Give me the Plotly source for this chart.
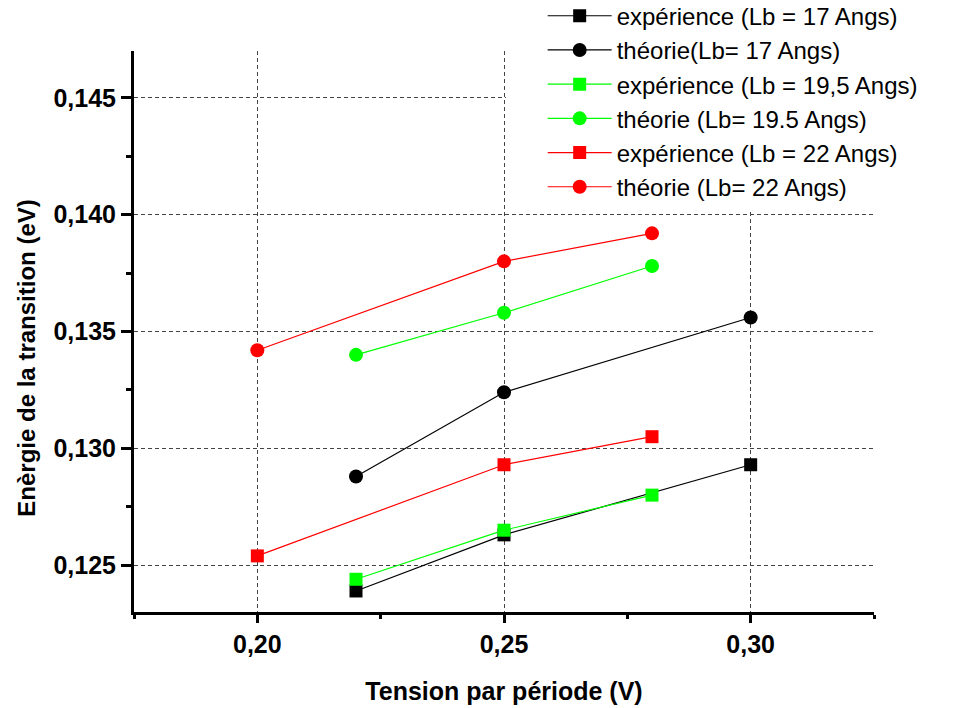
import plotly.graph_objects as go

# ---- data ----
x_exp17 = [0.22, 0.25, 0.30]
y_exp17 = [0.1239, 0.1263, 0.1293]
x_th17 = [0.22, 0.25, 0.30]
y_th17 = [0.1288, 0.1324, 0.1356]
x_exp195 = [0.22, 0.25, 0.28]
y_exp195 = [0.1244, 0.1265, 0.1280]
x_th195 = [0.22, 0.25, 0.28]
y_th195 = [0.1340, 0.1358, 0.1378]
x_exp22 = [0.20, 0.25, 0.28]
y_exp22 = [0.1254, 0.1293, 0.1305]
x_th22 = [0.20, 0.25, 0.28]
y_th22 = [0.1342, 0.1380, 0.1392]

names = [
    "expérience (Lb = 17 Angs)",
    "théorie(Lb= 17 Angs)",
    "expérience (Lb = 19,5 Angs)",
    "théorie (Lb= 19.5 Angs)",
    "expérience (Lb = 22 Angs)",
    "théorie (Lb= 22 Angs)",
]
x_title = "Tension par période (V)"
y_title = "Enèrgie de la transition (eV)"

series = [
    (x_exp17, y_exp17, "#000000", "square"),
    (x_th17, y_th17, "#000000", "circle"),
    (x_exp195, y_exp195, "#00ff00", "square"),
    (x_th195, y_th195, "#00ff00", "circle"),
    (x_exp22, y_exp22, "#ff0000", "square"),
    (x_th22, y_th22, "#ff0000", "circle"),
]

FONT = "Liberation Sans, Arial, sans-serif"

# figure is drawn inside the page's 8px body margin
W, H = 958, 700
L, R, T, B = 125.5, 91.5, 43.3, 96.3
PW, PH = W - L - R, H - T - B

fig = go.Figure()
for (xs, ys, col, sym), nm in zip(series, names):
    fig.add_trace(go.Scatter(
        x=xs, y=ys, name=nm, mode="lines+markers",
        line=dict(color=col, width=1.2),
        marker=dict(symbol=sym, size=13 if sym == "square" else 14, color=col,
                    line=dict(width=0)),
    ))

# y-axis title as annotation (centred a bit below plot centre, as in reference)
fig.add_annotation(
    text="<b>" + y_title + "</b>", textangle=-90,
    xref="paper", yref="paper",
    x=(17 - L) / PW, y=(H - B - 350) / PH,
    xanchor="center", yanchor="middle", showarrow=False,
    font=dict(family=FONT, size=24, color="black"),
)

fig.update_layout(
    width=W, height=H,
    margin=dict(l=L, r=R, t=T, b=B, autoexpand=False),
    paper_bgcolor="white", plot_bgcolor="white",
    separators=",.",
    font=dict(family=FONT, color="black"),
    showlegend=True,
    legend=dict(
        x=(498 - L) / PW, xref="paper", y=1 + (T + 14) / PH, yref="paper",
        xanchor="left", yanchor="top",
        bgcolor="#ffffff", borderwidth=0,
        font=dict(family=FONT, size=24, color="black"),
        title=dict(text="\u00a0" * 4, side="left",
                   font=dict(family=FONT, size=24, color="black")),
        itemwidth=64, tracegroupgap=0,
    ),
)

fig.update_xaxes(
    range=[0.175, 0.325], dtick=0.05, tick0=0.2, tickformat=".2f",
    showline=True, linewidth=3, linecolor="black",
    ticks="outside", ticklen=8, tickwidth=3, tickcolor="black",
    showgrid=True, gridcolor="#444444", gridwidth=1, griddash="4px,3px",
    zeroline=False,
    tickfont=dict(family=FONT, size=25, color="black", weight="bold"),
    minor=dict(dtick=0.025, tick0=0.175, ticks="outside", ticklen=4,
               tickwidth=3, tickcolor="black", showgrid=False),
    title=dict(text="<b>" + x_title + "</b>", standoff=26,
               font=dict(family=FONT, size=25, color="black")),
)
fig.update_yaxes(
    range=[0.123, 0.147], dtick=0.005, tick0=0.125, tickformat=".3f",
    showline=True, linewidth=3, linecolor="black",
    ticks="outside", ticklen=10, tickwidth=3, tickcolor="black",
    showgrid=True, gridcolor="#444444", gridwidth=1, griddash="4px,3px",
    zeroline=False,
    tickfont=dict(family=FONT, size=25, color="black", weight="bold"),
    minor=dict(dtick=0.0025, tick0=0.125, ticks="outside", ticklen=5,
               tickwidth=3, tickcolor="black", showgrid=False),
)

fig.write_html("out.html")
